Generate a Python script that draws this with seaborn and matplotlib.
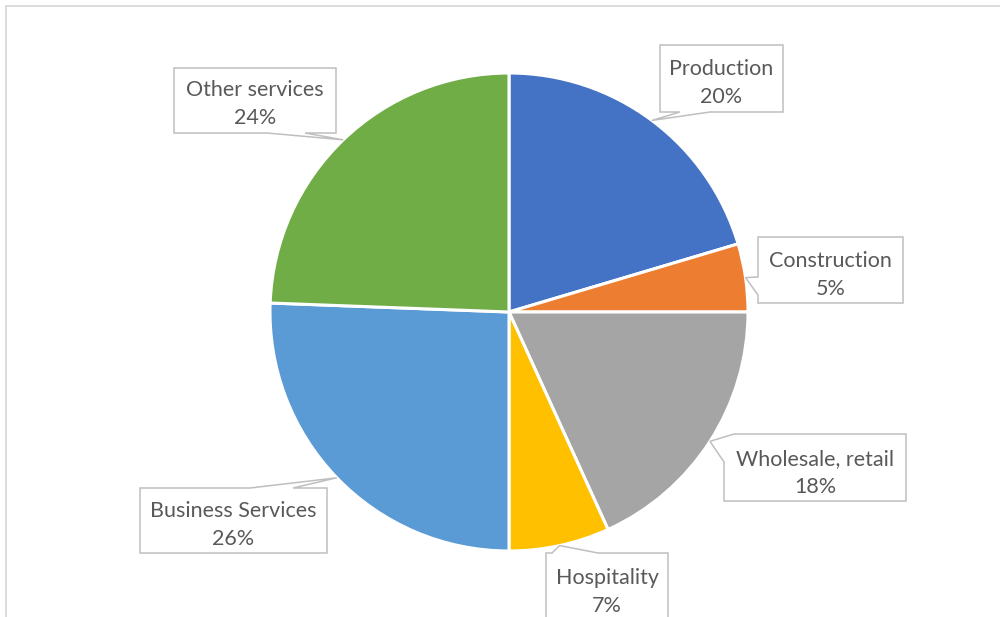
import numpy as np
import matplotlib
matplotlib.use("Agg")
import matplotlib.pyplot as plt
from matplotlib.patches import Polygon
import seaborn as sns

# ---- data ----
categories = ["Production", "Construction", "Wholesale, retail", "Hospitality",
              "Business Services", "Other services"]
shares = [20.4, 4.6, 18.2, 6.8, 25.6, 24.4]
colors = ["#4472C4", "#ED7D31", "#A5A5A5", "#FFC000", "#5B9BD5", "#70AD47"]

sns.set_theme(style="white")
plt.rcParams['font.family'] = ['Lato', 'DejaVu Sans']

W, H = 1000, 617
fig = plt.figure(figsize=(W / 100, H / 100), dpi=100)
ax = fig.add_axes([0, 0, 1, 1])
ax.set_xlim(0, W)
ax.set_ylim(0, H)
ax.set_aspect("equal")
ax.axis("off")

def Y(y):
    return H - y

cx, cy, R = 509, 312, 239
palette = sns.color_palette(colors)
ax.pie(shares, colors=palette, startangle=90, counterclock=False,
       center=(cx, Y(cy)), radius=R, frame=True,
       wedgeprops=dict(edgecolor="white", linewidth=2.2))
ax.set_xlim(0, W)
ax.set_ylim(0, H)
ax.axis("off")

# chart frame
ax.plot([6, W + 5], [Y(6), Y(6)], color="#D9D9D9", lw=1.3, clip_on=False)
ax.plot([6, 6], [Y(6), Y(H + 5)], color="#D9D9D9", lw=1.3, clip_on=False)

total = sum(shares)
cum = np.cumsum([0] + shares)

# layout for callouts: box (x0, y0, x1, y1), wedge side, wedge base points, text centre y
layout = {
    "Production": ((660, 45, 783, 112), "bottom", (680, 710), 83),
    "Construction": ((758, 237, 903, 303), "left", (277, 295), 275),
    "Wholesale, retail": ((724, 434, 906, 501), "corner_tl", (734, 462), 473),
    "Hospitality": ((546, 553, 668, 630), "top", (552, 598), 592),
    "Business Services": ((140, 488, 327, 553), "top", (250, 293), 525),
    "Other services": ((174, 68, 336, 133), "bottom", (267, 305), 104),
}

for i, cat in enumerate(categories):
    mid = (cum[i] + cum[i + 1]) / 2 / total * 2 * np.pi
    tx = cx + R * np.sin(mid)
    ty = cy - R * np.cos(mid)
    (x0, y0, x1, y1), side, (a, b), ytext = layout[cat]
    if side == "bottom":
        pts = [(x0, y0), (x1, y0), (x1, y1), (b, y1), (tx, ty), (a, y1), (x0, y1)]
    elif side == "top":
        pts = [(x0, y0), (a, y0), (tx, ty), (b, y0), (x1, y0), (x1, y1), (x0, y1)]
    elif side == "left":
        pts = [(x0, y0), (x1, y0), (x1, y1), (x0, y1), (x0, b), (tx, ty), (x0, a)]
    else:  # corner top-left
        pts = [(a, y0), (x1, y0), (x1, y1), (x0, y1), (x0, b), (tx, ty)]
    poly = Polygon([(px, Y(py)) for px, py in pts], closed=True,
                   facecolor="white", edgecolor="#BFBFBF", lw=1.1,
                   zorder=5, clip_on=False)
    ax.add_patch(poly)
    pct = f"{round(shares[i] / total * 100)}%"
    ax.text((x0 + x1) / 2, Y(ytext), f"{cat}\n{pct}", ha="center", va="center",
            fontsize=15.5, color="#595959", linespacing=1.55, zorder=6)

fig.savefig("out.png", dpi=100)
